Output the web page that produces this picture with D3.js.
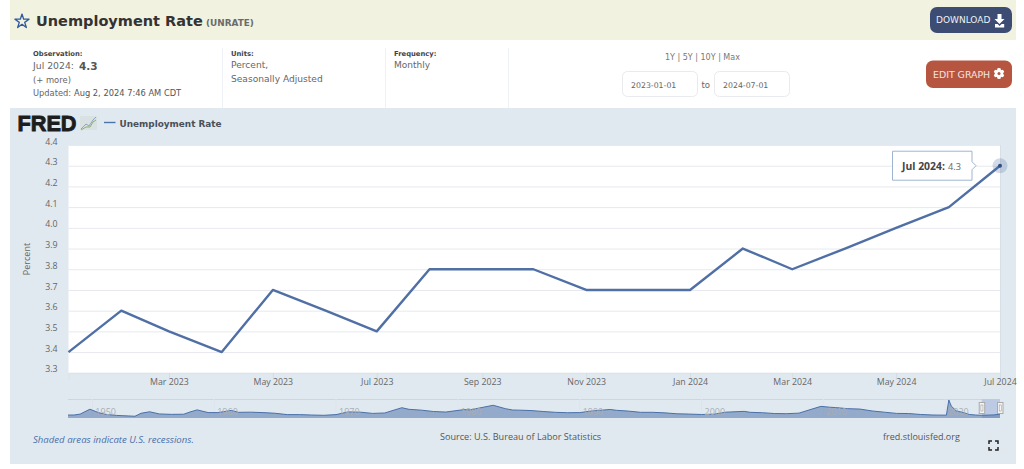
<!DOCTYPE html>
<html><head><meta charset="utf-8">
<script src="https://cdn.jsdelivr.net/npm/d3@7"></script>
<style>
html,body{margin:0;padding:0;background:#fff;overflow:hidden}
svg{display:block}
.dj{font-family:"DejaVu Sans",sans-serif}
.os{font-family:"Open Sans",sans-serif}
.ls{font-family:"Liberation Sans",sans-serif}
</style></head><body><svg id="c" width="1024" height="469"></svg>
<script>
const dates=["2023-01","2023-02","2023-03","2023-04","2023-05","2023-06","2023-07","2023-08","2023-09","2023-10","2023-11","2023-12","2024-01","2024-02","2024-03","2024-04","2024-05","2024-06","2024-07"];
const rates=[3.4,3.6,3.5,3.4,3.7,3.6,3.5,3.8,3.8,3.8,3.7,3.7,3.7,3.9,3.8,3.9,4.0,4.1,4.3];
const yTicks=[3.3,3.4,3.5,3.6,3.7,3.8,3.9,4.0,4.1,4.2,4.3,4.4];
const xTickDates=["2023-03","2023-05","2023-07","2023-09","2023-11","2024-01","2024-03","2024-05","2024-07"];
const navYears=[1948,1948.5,1949,1949.8,1950.5,1951,1952,1953,1953.5,1954,1954.7,1955.5,1956.5,1957.5,1958,1958.6,1959.5,1960.3,1961.4,1962,1963,1964,1965,1966,1967,1968,1969,1970,1971,1972,1973,1974,1975.4,1976,1977,1978,1979,1980.5,1981,1982.9,1983.9,1984.5,1985,1986,1987,1988,1989,1990,1991,1992.5,1993,1994,1995,1996,1997,1998,1999,2000,2001,2002,2003.5,2004,2005,2006,2007,2008,2009,2009.8,2010.5,2011,2012,2013,2014,2015,2016,2017,2018,2019,2020.1,2020.3,2020.5,2020.9,2021.5,2022,2022.5,2023,2024,2024.5];
const navRates=[3.6,3.6,4.3,7.9,5.4,4.2,3.3,2.9,2.7,4.9,6.0,4.4,4.1,4.2,5.8,7.4,5.4,5.4,7.0,5.6,5.7,5.4,4.9,3.9,3.9,3.6,3.4,3.9,5.9,5.7,4.8,5.1,9.0,7.8,7.2,6.2,5.8,7.6,7.4,10.8,8.3,7.3,7.2,6.9,6.2,5.6,5.3,5.4,6.6,7.7,7.1,6.5,5.6,5.6,5.2,4.5,4.3,4.0,4.2,5.7,6.3,5.6,5.3,4.7,4.6,5.0,7.8,10.0,9.4,9.1,8.3,8.0,6.6,5.7,4.8,4.7,4.0,3.6,3.5,14.7,10.2,6.7,5.4,4.0,3.6,3.4,3.7,4.3];
const navTickYears=[1950,1960,1970,1980,1990,2000,2010,2020];
const infoUnits=["Percent,","Seasonally Adjusted"];

const parse=d3.utcParse("%Y-%m");
const svg=d3.select("#c");
const T=(x,y,s,o={})=>{const t=svg.append("text").attr("x",x).attr("y",y).text(s)
  .attr("class",o.cls||"dj").attr("font-size",o.size||9).attr("fill",o.fill||"#666")
  .attr("font-weight",o.weight||400).attr("text-anchor",o.anchor||"start");
  if(o.italic)t.attr("font-style","italic");return t;};
const R=(x,y,w,h,f,o={})=>svg.append("rect").attr("x",x).attr("y",y).attr("width",w).attr("height",h)
  .attr("fill",f).attr("rx",o.rx||0).attr("stroke",o.stroke||"none").attr("stroke-width",o.sw||1);

// page bands
R(10,0,1006,40,"#f1f2e0");
R(10,108,1006,356,"#e1e9f0");

// header
svg.append("path").attr("transform","translate(22,21.5)")
  .attr("d",d3.symbol(d3.symbolStar,62)()).attr("fill","none").attr("stroke","#2f5a9e").attr("stroke-width",1.3).attr("stroke-linejoin","round");
T(36,26,"Unemployment Rate",{size:14.5,weight:700,fill:"#333"});
T(206,26,"(UNRATE)",{size:8.9,weight:700,fill:"#6b6b6b"});
R(930,7,82,26,"#3c4c72",{rx:7});
T(936,23,"DOWNLOAD",{size:9,fill:"#eef1f6"});
svg.append("path").attr("fill","#fff").attr("d","M996.5 14h4v5h3l-5 5-5-5h3zM994 24h2.6l2 2 2-2h2.6v3.6h-9.2z").attr("transform","translate(1,0)");

// info row
[222,385,508].forEach(x=>svg.append("line").attr("x1",x+.5).attr("x2",x+.5).attr("y1",48).attr("y2",108).attr("stroke","#eef2f6"));
T(33,56,"Observation:",{size:6.8,weight:700,fill:"#444"});
T(33,69,"Jul 2024:",{size:9.3});
T(79,70,"4.3",{size:10.5,weight:700,fill:"#555"});
T(33,83,"(+ more)",{size:8.4});
T(33,96,"Updated:",{size:8.3});
T(74,96,"Aug 2, 2024 7:46 AM CDT",{size:8.3,fill:"#555"});
T(231,56,"Units:",{size:6.8,weight:700,fill:"#444"});
infoUnits.forEach((u,i)=>T(231,68+i*13.5,u,{size:9.1}));
T(394,56,"Frequency:",{size:6.8,weight:700,fill:"#444"});
T(394,68,"Monthly",{size:9});
T(665,60,"1Y | 5Y | 10Y | Max",{size:8,fill:"#777"});
R(622.5,71.5,75,25,"#fff",{rx:5,stroke:"#e8eaed"});
R(714.5,71.5,75,25,"#fff",{rx:5,stroke:"#e8eaed"});
T(631,88,"2023-01-01",{size:7.8});
T(723,88,"2024-07-01",{size:7.8});
T(701.5,88,"to",{size:8.6});
R(926,60.5,86,27.5,"#b65540",{rx:7});
T(933,77.5,"EDIT GRAPH",{size:9.4,fill:"#f6e6e2"});
// gear
const gear=svg.append("g").attr("transform","translate(999,73.5)");
d3.range(6).forEach(i=>gear.append("rect").attr("x",-1.4).attr("y",-5.2).attr("width",2.8).attr("height",10.4).attr("fill","#fff").attr("transform",`rotate(${i*60})`));
gear.append("circle").attr("r",2.9).attr("fill","none").attr("stroke","#fff").attr("stroke-width",2.6);
gear.append("circle").attr("r",1.5).attr("fill","#b65540");

// legend / logo
T(17.5,131,"FRED",{cls:"ls",size:22,weight:700,fill:"#1d1d1d"}).attr("stroke","#1d1d1d").attr("stroke-width",.9).attr("textLength",59).attr("lengthAdjust","spacingAndGlyphs");
R(80,116,17,14,"#d9e1e2");
svg.append("path").attr("d","M81 129l5-5 3 2 4-6 3-3").attr("fill","none").attr("stroke","#8aa6c4").attr("stroke-width",1);
svg.append("path").attr("d","M81 130l5-3 4 0 3-5 3-2").attr("fill","none").attr("stroke","#8fae72").attr("stroke-width",1);
svg.append("line").attr("x1",104).attr("x2",115.5).attr("y1",122.5).attr("y2",122.5).attr("stroke","#4a72ab").attr("stroke-width",1.4);
T(119.5,126.5,"Unemployment Rate",{size:8.9,weight:700,fill:"#4a5058"});

// main chart
const x=d3.scaleUtc().domain([parse("2023-01"),parse("2024-07")]).range([68.5,1000]);
const y=d3.scaleLinear().domain([3.3,4.4]).range([372.8,145]);
R(68.5,145,931.5,227.8,"#fff");
svg.append("line").attr("x1",1000.5).attr("x2",1000.5).attr("y1",145).attr("y2",373).attr("stroke","#d8dfe6");

const yAxis=d3.axisLeft(y).tickValues(yTicks).tickFormat(d3.format(".1f")).tickSize(0);
const gy=svg.append("g").attr("transform","translate(68.5,0)").call(yAxis);
gy.select(".domain").remove();
gy.selectAll("line").attr("x2",931.5).attr("stroke","#e6e9ee").attr("stroke-width",1);
gy.selectAll("text").attr("x",-11).attr("dy","-0.1em").attr("font-size",8.8).attr("fill","#666").attr("font-family","Open Sans");

const xAxis=d3.axisBottom(x).tickValues(xTickDates.map(parse)).tickFormat(d3.utcFormat("%b %Y")).tickSize(7);
const gx=svg.append("g").attr("transform","translate(0,373)").call(xAxis);
gx.select(".domain").attr("stroke","#dbe2e9");
gx.selectAll("line").attr("stroke","#d3dde7");
gx.selectAll("text").attr("y",7).attr("dy","0.6em").attr("font-family","Open Sans").attr("font-size",8.8).attr("fill","#666");

svg.append("text").attr("transform","translate(30,259) rotate(-90)").attr("text-anchor","middle")
  .attr("font-family","Open Sans").attr("font-size",9).attr("fill","#666").text("Percent");

const pts=dates.map((d,i)=>({d:parse(d),v:rates[i]}));
svg.append("path").datum(pts).attr("fill","none").attr("stroke","#4f6fa5").attr("stroke-width",2.4)
  .attr("stroke-linejoin","round").attr("d",d3.line().x(d=>x(d.d)).y(d=>y(d.v)));

// hover marker and tooltip
const last=pts[pts.length-1],lx=x(last.d),ly=y(last.v);
svg.append("circle").attr("cx",lx).attr("cy",ly).attr("r",7.5).attr("fill","#4f6fa5").attr("fill-opacity",.25);
svg.append("circle").attr("cx",lx).attr("cy",ly).attr("r",2).attr("fill","#2e4f86");
svg.append("path").attr("d",`M${lx-107.5} ${ly-14.5}h79.5v10.5l4 4-4 4v10.5h-79.5z`)
  .attr("fill","#fff").attr("stroke","#9fb4d2").attr("stroke-width",1);
T(lx-98,ly+4,"Jul 2024:",{cls:"os",size:10.4,weight:700,fill:"#444"});
T(lx-52,ly+4,"4.3",{cls:"os",size:9.2,fill:"#666"});

// navigator
const nx=d3.scaleLinear().domain([1948,2024.5]).range([68,1000]);
const ny=d3.scaleLinear().domain([14.7,3.4]).range([400,415.3]);
const navTop=399,navBot=418;
svg.append("line").attr("x1",68).attr("x2",1000).attr("y1",navTop+.5).attr("y2",navTop+.5).attr("stroke","#d0d5d9");
navTickYears.forEach(yr=>svg.append("line").attr("x1",nx(yr)).attr("x2",nx(yr)).attr("y1",navTop).attr("y2",navBot).attr("stroke","#dde4ec"));
const navPts=navYears.map((t,i)=>({t,v:navRates[i]}));
const s0=nx(2023),s1=nx(2024.5);
R(s0,navTop,s1-s0,navBot-navTop,"#bccbe3");
svg.append("path").datum(navPts).attr("fill","#476ba3").attr("fill-opacity",.5)
  .attr("d",d3.area().x(d=>nx(d.t)).y0(navBot).y1(d=>ny(d.v)));
svg.append("path").datum(navPts).attr("fill","none").attr("stroke","#4a70a8").attr("stroke-width",1)
  .attr("d",d3.line().x(d=>nx(d.t)).y(d=>ny(d.v)));
navTickYears.forEach(yr=>T(nx(yr)+3,415,String(yr),{cls:"os",size:9,fill:"#a9aeb4"}));
[s0,s1].forEach(h=>{R(h-2.5,402.5,5.5,11,"#f4f4f4",{stroke:"#aaa"});
  R(h-.8,405,2,6,"#fff",{stroke:"#999",sw:.6});});

// footer
T(33,443,"Shaded areas indicate U.S. recessions.",{cls:"os",size:9.6,italic:true,fill:"#4a6ea8"});
T(440,439.5,"Source: U.S. Bureau of Labor Statistics",{cls:"os",size:9.1,fill:"#555"});
T(883,439.5,"fred.stlouisfed.org",{cls:"os",size:9,fill:"#555"});
svg.append("path").attr("fill","none").attr("stroke","#222").attr("stroke-width",1.5)
  .attr("d","M989 444v-3h3M995 441h3v3M998 447v3h-3M992 450h-3v-3");
</script></body></html>
